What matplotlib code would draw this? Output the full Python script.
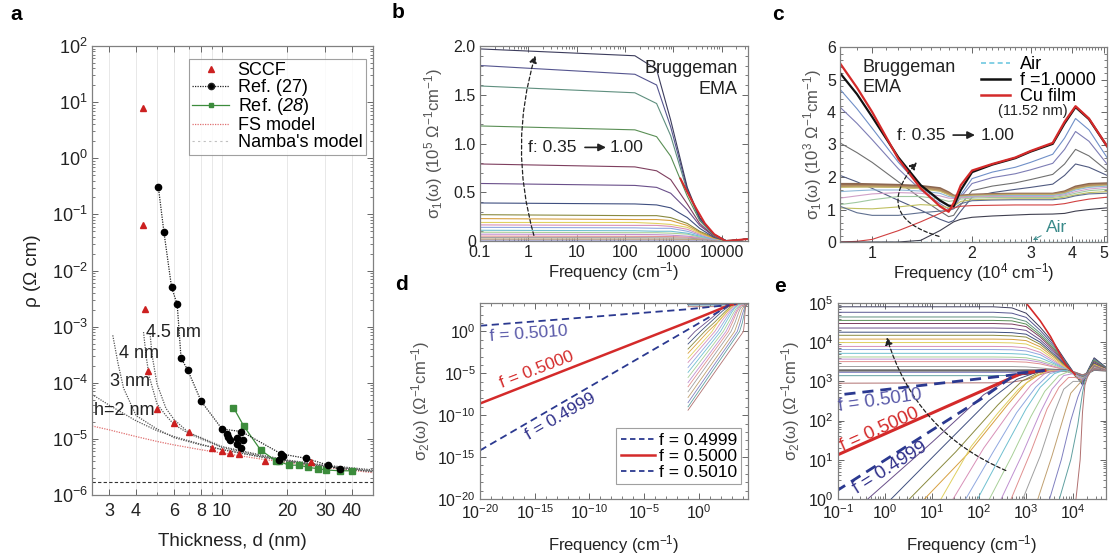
"""Five-panel figure: thin-film resistivity vs thickness (a) and Bruggeman EMA
optical conductivity spectra (b-e). Values are read off the reference figure."""
import matplotlib
matplotlib.use("Agg")
import matplotlib.pyplot as plt
import numpy as np
from matplotlib import ticker
from matplotlib.lines import Line2D

plt.rcParams["font.family"] = ["Liberation Sans", "DejaVu Sans"]
plt.rcParams["mathtext.fontset"] = "custom"
plt.rcParams["mathtext.rm"] = "Liberation Sans"
plt.rcParams["mathtext.it"] = "Liberation Sans:italic"
plt.rcParams["mathtext.bf"] = "Liberation Sans:bold"
plt.rcParams["mathtext.sf"] = "Liberation Sans:italic"

# ---------------- panel a: resistivity vs thickness ----------------
SCCF_D = [4.3, 4.3, 4.38, 4.52, 5.0, 6.0, 7.0, 8.95, 10.0, 10.9, 12.0, 15.8, 25.8]
SCCF_RHO = [8.0, 6.6e-2, 2.1e-3, 1.6e-4, 3.4e-5, 1.95e-5, 1.3e-5, 6.9e-6, 6.0e-6, 5.6e-6, 5.3e-6, 4.1e-6, 3.9e-6]

REF27_D = [5.07, 5.38, 5.84, 6.2, 6.46, 6.93, 8.0, 10.0, 12.3, 18.8, 24.5, 31.0, 35.0]
REF27_RHO = [0.31, 0.049, 5.0e-3, 2.5e-3, 2.75e-4, 1.7e-4, 4.7e-5, 1.5e-5, 1.35e-5, 5.4e-6, 4.5e-6, 3.4e-6, 2.9e-6]
REF27_EXTRA_D = [10.5, 10.6, 10.9, 11.7, 12.5, 11.7, 12.3, 18.3, 19.1]
REF27_EXTRA_RHO = [1.24e-5, 1.1e-5, 9.6e-6, 1.05e-5, 9.6e-6, 8.0e-6, 6.8e-6, 4.2e-6, 5.0e-6]

REF28_D = [11.3, 12.6, 15.1, 17.7, 18.3, 20.4, 22.8, 25.1, 27.7, 30.2, 35.0, 40.0]
REF28_RHO = [3.6e-5, 1.7e-5, 6.3e-6, 4.1e-6, 4.0e-6, 3.4e-6, 3.4e-6, 3.1e-6, 2.95e-6, 2.8e-6, 2.7e-6, 2.7e-6]

FS_D = [2.5, 3, 4, 5, 6, 8, 10, 15, 20, 30, 50]
FS_RHO = [1.7e-5, 1.45e-5, 1.1e-5, 9.0e-6, 7.8e-6, 6.4e-6, 5.6e-6, 4.4e-6, 3.8e-6, 3.1e-6, 2.5e-6]

NAMBA_LABELS = ["h=2 nm", "3 nm", "4 nm", "4.5 nm"]
NAMBA_D = [
    [2.5, 3, 4, 5, 6, 8, 10, 15, 20, 30, 50],
    [3.12, 3.3, 3.5, 4, 5, 6, 8, 10, 15, 20, 30, 50],
    [4.33, 4.45, 4.6, 5, 5.5, 6, 7, 8, 10, 15, 20, 30, 50],
    [4.64, 4.75, 5, 5.5, 6, 7, 8, 10, 15, 20, 30, 50],
]
NAMBA_RHO = [
    [6.2e-5, 4.0e-5, 2.1e-5, 1.4e-5, 1.1e-5, 8.0e-6, 6.4e-6, 4.8e-6, 4.0e-6, 3.2e-6, 2.6e-6],
    [7.0e-4, 2.2e-4, 8.0e-5, 2.6e-5, 1.5e-5, 1.05e-5, 7.8e-6, 6.5e-6, 4.8e-6, 4.0e-6, 3.2e-6, 2.6e-6],
    [8.0e-4, 3.0e-4, 1.3e-4, 4.2e-5, 2.6e-5, 1.8e-5, 1.25e-5, 1.0e-5, 7.0e-6, 5.0e-6, 4.1e-6, 3.3e-6, 2.7e-6],
    [7.5e-4, 3.0e-4, 9.5e-5, 3.5e-5, 2.2e-5, 1.3e-5, 1.05e-5, 7.3e-6, 5.2e-6, 4.2e-6, 3.4e-6, 2.8e-6],
]
NAMBA_LABEL_POS = [(2.56, 3.2e-5), (3.04, 1.05e-4), (3.34, 3.3e-4), (4.43, 7.8e-4)]
BULK_RHO = 1.68e-6

# ---------------- panel b: sigma1, Bruggeman EMA (10^5) ----------------
B_FREQ = [0.1, 160, 450, 880, 1940, 3500, 6800, 12700, 35000]
B_SIGMA1 = [
    [1.97, 1.90, 1.76, 1.24, 0.55, 0.24, 0.07, 0.00, 0.02],
    [1.80, 1.71, 1.60, 1.17, 0.53, 0.23, 0.07, 0.00, 0.02],
    [1.59, 1.52, 1.41, 1.08, 0.51, 0.22, 0.06, 0.00, 0.02],
    [1.18, 1.14, 1.07, 0.87, 0.46, 0.21, 0.06, 0.00, 0.02],
    [0.79, 0.76, 0.72, 0.63, 0.38, 0.18, 0.05, 0.00, 0.02],
    [0.59, 0.57, 0.55, 0.49, 0.32, 0.16, 0.05, 0.00, 0.02],
    [0.39, 0.38, 0.37, 0.34, 0.24, 0.13, 0.04, 0.00, 0.02],
    [0.27, 0.26, 0.26, 0.24, 0.18, 0.10, 0.04, 0.00, 0.02],
    [0.23, 0.22, 0.22, 0.21, 0.16, 0.09, 0.03, 0.00, 0.02],
    [0.19, 0.19, 0.18, 0.17, 0.14, 0.08, 0.03, 0.00, 0.02],
    [0.165, 0.16, 0.16, 0.15, 0.12, 0.07, 0.03, 0.00, 0.02],
    [0.14, 0.135, 0.13, 0.13, 0.10, 0.06, 0.02, 0.00, 0.02],
    [0.11, 0.105, 0.10, 0.10, 0.08, 0.05, 0.02, 0.00, 0.02],
    [0.09, 0.085, 0.085, 0.08, 0.07, 0.04, 0.02, 0.00, 0.02],
    [0.07, 0.067, 0.065, 0.06, 0.05, 0.035, 0.015, 0.00, 0.02],
    [0.05, 0.048, 0.047, 0.045, 0.04, 0.03, 0.015, 0.00, 0.02],
    [0.035, 0.034, 0.033, 0.032, 0.03, 0.022, 0.012, 0.00, 0.02],
    [0.02, 0.02, 0.02, 0.02, 0.018, 0.015, 0.01, 0.005, 0.02],
    [0.01, 0.01, 0.01, 0.01, 0.01, 0.01, 0.008, 0.005, 0.02],
]
CU_B_FREQ = [1400, 2100, 3000, 4500, 7000, 12000, 35000]
CU_B_SIGMA1 = [0.64, 0.47, 0.33, 0.18, 0.07, 0.00, 0.02]

# ---------------- panel c: sigma1 visible range (10^3) ----------------
C_FREQ = [0.80, 0.90, 1.00, 1.20, 1.40, 1.60, 1.70, 1.76, 1.85, 2.00, 2.30, 2.70, 3.00, 3.50, 3.80, 4.10, 4.50, 5.10]
CU_FILM_C = [5.50, 4.75, 4.00, 2.55, 1.65, 1.10, 0.93, 1.20, 1.75, 2.20, 2.40, 2.60, 2.80, 3.05, 3.70, 4.18, 3.80, 2.95]
F100_C = [5.20, 4.55, 3.85, 2.60, 1.75, 1.28, 1.12, 1.10, 1.60, 2.15, 2.38, 2.58, 2.78, 3.02, 3.65, 4.15, 3.78, 2.95]
C_SIGMA1 = [
    [4.70, 4.10, 3.50, 2.45, 1.70, 1.25, 1.10, 1.10, 1.45, 1.95, 2.15, 2.30, 2.45, 2.70, 3.20, 3.80, 3.45, 2.60],
    [4.15, 3.65, 3.15, 2.25, 1.60, 1.18, 1.02, 1.05, 1.38, 1.80, 1.98, 2.10, 2.22, 2.42, 2.85, 3.40, 3.10, 2.40],
    [3.05, 2.75, 2.45, 1.85, 1.35, 0.95, 0.78, 0.82, 1.15, 1.58, 1.72, 1.82, 1.92, 2.08, 2.40, 2.85, 2.65, 2.20],
    [2.05, 1.85, 1.65, 1.28, 0.98, 0.70, 0.60, 0.66, 0.95, 1.38, 1.52, 1.62, 1.68, 1.78, 2.05, 2.40, 2.30, 2.05],
    [1.78, 1.78, 1.77, 1.75, 1.72, 1.65, 1.52, 1.42, 1.42, 1.45, 1.47, 1.48, 1.48, 1.48, 1.55, 1.70, 1.78, 1.80],
    [1.72, 1.72, 1.72, 1.70, 1.67, 1.60, 1.48, 1.40, 1.40, 1.43, 1.45, 1.46, 1.46, 1.46, 1.52, 1.66, 1.74, 1.76],
    [1.68, 1.69, 1.69, 1.68, 1.64, 1.56, 1.45, 1.39, 1.39, 1.42, 1.44, 1.45, 1.45, 1.45, 1.50, 1.63, 1.71, 1.74],
    [1.55, 1.58, 1.60, 1.60, 1.57, 1.50, 1.40, 1.37, 1.38, 1.40, 1.42, 1.43, 1.43, 1.43, 1.48, 1.60, 1.68, 1.72],
    [1.35, 1.42, 1.48, 1.52, 1.50, 1.42, 1.35, 1.34, 1.36, 1.38, 1.40, 1.40, 1.40, 1.40, 1.45, 1.55, 1.63, 1.68],
    [1.15, 1.22, 1.30, 1.40, 1.40, 1.32, 1.25, 1.27, 1.32, 1.35, 1.37, 1.37, 1.37, 1.37, 1.42, 1.50, 1.58, 1.62],
    [1.05, 1.03, 1.02, 1.08, 1.15, 1.12, 1.05, 1.10, 1.25, 1.30, 1.32, 1.33, 1.33, 1.33, 1.38, 1.45, 1.52, 1.55],
    [1.10, 0.90, 0.82, 0.82, 0.90, 0.95, 0.97, 1.02, 1.18, 1.27, 1.29, 1.30, 1.30, 1.30, 1.34, 1.42, 1.48, 1.50],
    [0.00, 0.02, 0.08, 0.35, 0.62, 0.88, 1.00, 1.05, 1.10, 1.12, 1.13, 1.14, 1.14, 1.14, 1.18, 1.25, 1.32, 1.38],
    [0.00, 0.00, 0.00, 0.00, 0.05, 0.35, 0.52, 0.62, 0.70, 0.76, 0.80, 0.83, 0.85, 0.86, 0.88, 0.95, 1.00, 1.05],
]
AIR_FREQ = [0.8, 5.1]
AIR_SIGMA1 = [0.0, 0.0]

# ---------------- panels d/e: sigma2 ----------------
MET_FREQ = [0.1, 200, 500, 1000, 2000, 4000, 7000, 1.1e4, 1.6e4, 2.0e4, 2.8e4, 5.0e4]
MET_SIGMA2 = [
    [8.0e4, 8.0e4, 7.5e4, 5.5e4, 2.4e4, 9.0e3, 3.3e3, 1.5e3, 8.0e2, 1.8e3, 4.0e3, 2.3e3],
    [5.8e4, 5.8e4, 5.5e4, 4.3e4, 2.0e4, 8.0e3, 3.1e3, 1.5e3, 8.5e2, 1.7e3, 3.8e3, 2.2e3],
    [4.4e4, 4.4e4, 4.2e4, 3.4e4, 1.7e4, 7.2e3, 3.0e3, 1.4e3, 9.0e2, 1.7e3, 3.6e3, 2.2e3],
    [3.6e4, 3.6e4, 3.5e4, 2.9e4, 1.5e4, 6.6e3, 2.9e3, 1.4e3, 9.0e2, 1.6e3, 3.4e3, 2.1e3],
    [3.0e4, 3.0e4, 2.9e4, 2.5e4, 1.35e4, 6.0e3, 2.8e3, 1.4e3, 9.5e2, 1.6e3, 3.2e3, 2.1e3],
    [2.3e4, 2.3e4, 2.25e4, 2.0e4, 1.15e4, 5.4e3, 2.6e3, 1.4e3, 1.0e3, 1.6e3, 3.0e3, 2.0e3],
    [1.8e4, 1.8e4, 1.75e4, 1.6e4, 1.0e4, 4.8e3, 2.5e3, 1.4e3, 1.0e3, 1.6e3, 2.9e3, 2.0e3],
    [1.5e4, 1.5e4, 1.45e4, 1.35e4, 8.8e3, 4.4e3, 2.4e3, 1.4e3, 1.05e3, 1.6e3, 2.8e3, 2.0e3],
    [1.2e4, 1.2e4, 1.18e4, 1.1e4, 7.6e3, 4.0e3, 2.3e3, 1.45e3, 1.1e3, 1.6e3, 2.7e3, 2.0e3],
    [9.8e3, 9.8e3, 9.6e3, 9.0e3, 6.5e3, 3.6e3, 2.2e3, 1.45e3, 1.1e3, 1.6e3, 2.6e3, 2.0e3],
    [7.8e3, 7.8e3, 7.7e3, 7.2e3, 5.5e3, 3.3e3, 2.1e3, 1.5e3, 1.15e3, 1.6e3, 2.5e3, 2.0e3],
    [6.5e3, 6.5e3, 6.4e3, 6.0e3, 4.8e3, 3.0e3, 2.1e3, 1.5e3, 1.2e3, 1.6e3, 2.4e3, 2.0e3],
    [5.2e3, 5.2e3, 5.1e3, 4.9e3, 4.0e3, 2.8e3, 2.0e3, 1.5e3, 1.2e3, 1.6e3, 2.3e3, 1.9e3],
    [4.2e3, 4.2e3, 4.15e3, 4.0e3, 3.4e3, 2.6e3, 2.0e3, 1.5e3, 1.25e3, 1.6e3, 2.3e3, 1.9e3],
    [3.7e3, 3.7e3, 3.65e3, 3.55e3, 3.1e3, 2.4e3, 1.95e3, 1.55e3, 1.3e3, 1.6e3, 2.2e3, 1.9e3],
    [3.2e3, 3.2e3, 3.2e3, 3.1e3, 2.8e3, 2.3e3, 1.95e3, 1.55e3, 1.3e3, 1.6e3, 2.2e3, 1.9e3],
    [2.4e3, 2.4e3, 2.4e3, 2.35e3, 2.2e3, 2.05e3, 1.9e3, 1.6e3, 1.35e3, 1.6e3, 2.1e3, 1.9e3],
    [1.9e3, 1.9e3, 1.9e3, 1.9e3, 1.9e3, 1.9e3, 1.9e3, 1.65e3, 1.4e3, 1.6e3, 2.0e3, 1.9e3],
    [1.7e3, 1.7e3, 1.7e3, 1.75e3, 1.85e3, 1.9e3, 1.9e3, 1.65e3, 1.4e3, 1.6e3, 2.0e3, 1.9e3],
    [1.4e3, 1.4e3, 1.42e3, 1.5e3, 1.75e3, 1.9e3, 1.9e3, 1.7e3, 1.4e3, 1.6e3, 2.0e3, 1.9e3],
    [9.0e2, 9.2e2, 9.6e2, 1.1e3, 1.5e3, 1.85e3, 1.9e3, 1.7e3, 1.45e3, 1.6e3, 2.0e3, 1.9e3],
]
MET_THICK = 17

INS_FREQ = [
    [0.1, 0.43, 10, 126, 500, 1600, 4000],
    [0.1, 1.35, 16, 160, 630, 2000, 4000],
    [0.1, 3.3, 32, 250, 800, 2200, 4000],
    [0.1, 6.9, 63, 400, 1000, 2500, 4000],
    [0.1, 15.5, 68, 250, 680, 1600, 3200],
    [0.1, 28, 126, 500, 1260, 2800, 5000],
    [0.1, 52, 200, 630, 1600, 3200, 5600],
    [0.1, 93, 320, 1000, 2000, 4000, 6300],
    [0.1, 166, 500, 1260, 2500, 5000, 8000],
    [0.1, 295, 800, 2000, 3550, 6300, 1.0e4],
    [0.1, 480, 1260, 2800, 5000, 8000, 1.1e4],
    [0.1, 850, 2000, 4000, 6300, 1.0e4, 1.26e4],
    [0.1, 1780, 3550, 6300, 8900, 1.26e4],
    [0.1, 3160, 5600, 8900, 1.26e4, 1.58e4],
    [0.1, 5100, 8900, 1.26e4, 1.58e4, 1.78e4],
    [0.1, 1.15e4, 1.41e4, 1.58e4, 1.78e4, 2.0e4],
]
INS_SIGMA2 = [
    [0.13, 1, 28, 460, 1260, 1860, 1900],
    [0.032, 1, 20, 320, 1120, 1860, 1900],
    [8.0e-3, 1, 16, 250, 1000, 1860, 1900],
    [2.5e-3, 1, 16, 250, 900, 1860, 1900],
    [6.3e-4, 1, 22, 155, 620, 1410, 1900],
    [2.0e-4, 1, 20, 200, 800, 1780, 1900],
    [5.0e-5, 1, 16, 160, 710, 1580, 1900],
    [1.3e-5, 1, 16, 200, 710, 1580, 1900],
    [3.2e-6, 1, 12.6, 126, 560, 1410, 1780],
    [8.0e-7, 1, 12.6, 160, 630, 1410, 1580],
    [2.5e-7, 1, 16, 200, 710, 1260, 1260],
    [6.3e-8, 1, 12.6, 160, 630, 1000, 1000],
    [1.3e-8, 1, 12.6, 126, 500, 800],
    [3.2e-9, 1, 10, 100, 400, 800],
    [1.0e-9, 1, 10, 80, 500, 1000],
    [4.0e-10, 1, 10, 160, 800, 1260],
]
TAIL_FREQ = [7000, 1.1e4, 1.6e4, 2.2e4, 2.8e4, 5.0e4]
TAIL_SIGMA2 = [1.9e3, 1.5e3, 1.1e3, 1.6e3, 2.5e3, 1.9e3]

CU_E_FREQ = [1000, 2000, 3300, 5000, 7000, 1.1e4]
CU_E_SIGMA2 = [1.0e5, 3.5e4, 1.4e4, 5.5e3, 2.6e3, 1.5e3]

F5010_FREQ = [1e-20, 0.1, 1000, 2500]
F5010_SIGMA2 = [4.8, 4.5e2, 1.6e3, 1.9e3]
F5000_FREQ = [1e-20, 0.1, 800, 2500]
F5000_SIGMA2 = [2.5e-9, 13.5, 1.6e3, 1.9e3]
F4999_FREQ = [1e-20, 0.1, 120, 630, 2500]
F4999_SIGMA2 = [6.3e-15, 1.7, 3.8e2, 1.6e3, 1.9e3]

# ---------------- styles ----------------
W, H = 1117, 558
TEXT = "#222222"
RED = "#d42a2a"
NAVY = "#2b3990"
BLUE_TXT = "#5858a8"
NAVY_TXT = "#30308a"
PALETTE = ["#3c3c5c", "#55558f", "#5f8f7f", "#5a8f55", "#7f3f5f", "#6a4f8a", "#3f4f80",
           "#8a8a3f", "#d8a040", "#e0d060", "#d890b8", "#90a8e0", "#70c0d0", "#a8d098",
           "#c090d0", "#e09090", "#a0a0a0", "#c0a070", "#8080c0", "#60a0a0", "#b07070"]
C_COLORS = ["#7090c8", "#7d7db5", "#707070", "#505a80", "#8c6650", "#b08a60", "#c8c070",
            "#90b8d8", "#d0a0c8", "#a0c8a0", "#c0c060", "#607090", "#d04040", "#404050"]

fig = plt.figure(figsize=(W / 100, H / 100), dpi=100)


def add_ax(left, top, right, bottom):
    return fig.add_axes([left / W, 1 - bottom / H, (right - left) / W, (bottom - top) / H])


def style(ax, size=11.5):
    ax.tick_params(which="both", direction="in", top=True, right=True, colors="#666666",
                   labelcolor=TEXT, labelsize=size, pad=3)
    ax.tick_params(which="major", length=4, width=0.7)
    ax.tick_params(which="minor", length=2, width=0.6)
    for s in ax.spines.values():
        s.set_color("#808080")
        s.set_linewidth(0.9)


def curved_arrow(ax, start, end, rad):
    ax.annotate("", xy=end, xytext=start,
                arrowprops=dict(arrowstyle="-|>", linestyle=(0, (3, 2)), color="#222222", lw=0.9,
                                mutation_scale=11, connectionstyle=f"arc3,rad={rad}"))


# ================= panel a =================
ax = add_ax(92, 46, 373, 495)
style(ax, 13)
ax.set_xscale("log")
ax.set_yscale("log")
ax.set_xlim(2.5, 50)
ax.set_ylim(1e-6, 1e2)
ax.xaxis.set_major_locator(ticker.FixedLocator([3, 4, 6, 8, 10, 20, 30, 40]))
ax.xaxis.set_major_formatter(ticker.FixedFormatter(["3", "4", "6", "8", "10", "20", "30", "40"]))
ax.xaxis.set_minor_locator(ticker.FixedLocator([5, 7, 9, 50]))
ax.xaxis.set_minor_formatter(ticker.NullFormatter())
ax.yaxis.set_major_locator(ticker.LogLocator(base=10, numticks=20))
ax.yaxis.set_minor_locator(ticker.LogLocator(base=10, subs=np.arange(2, 10), numticks=20))
ax.yaxis.set_minor_formatter(ticker.NullFormatter())
ax.grid(True, which="both", axis="x", color="#e8e8e8", lw=0.7)
ax.set_axisbelow(True)
ax.tick_params(axis="x", pad=6)

ax.axhline(BULK_RHO, color="#333333", ls=(0, (3, 2)), lw=0.8)
ax.plot(FS_D, FS_RHO, color="#e07070", ls=(0, (1, 1)), lw=0.9)
for xs, ys in zip(NAMBA_D, NAMBA_RHO):
    ax.plot(xs, ys, color="#555555", ls=(0, (1, 1)), lw=0.9)
for lab, (x, y) in zip(NAMBA_LABELS, NAMBA_LABEL_POS):
    ax.text(x, y, lab, fontsize=13, color=TEXT, va="center", ha="left")
ax.plot(REF28_D, REF28_RHO, color="#3c8c3c", lw=0.9, marker="s", ms=4, mfc="#3c8c3c", mec="#3c8c3c")
ax.plot(REF27_D, REF27_RHO, color="#222222", ls=(0, (1, 1)), lw=0.9, marker="o", ms=4.5, mfc="black", mec="black")
ax.plot(REF27_EXTRA_D, REF27_EXTRA_RHO, ls="none", marker="o", ms=4.5, mfc="black", mec="black")
ax.plot(SCCF_D, SCCF_RHO, ls="none", marker="^", ms=5, color="#cc2020")

handles = [
    Line2D([], [], ls="none", marker="^", ms=5, color="#cc2020"),
    Line2D([], [], color="#222222", ls=(0, (1, 1)), lw=0.9, marker="o", ms=4.5, mfc="black"),
    Line2D([], [], color="#3c8c3c", lw=0.9, marker="s", ms=3.5),
    Line2D([], [], color="#e07070", ls=(0, (1, 1)), lw=0.9),
    Line2D([], [], color="#c0c0c0", ls=(0, (2, 3)), lw=0.8),
]
labels = ["SCCF", "Ref. (27)", r"Ref. ($\mathsf{28}$)", "FS model", "Namba's model"]
leg = ax.legend(handles, labels, loc="upper right", bbox_to_anchor=(0.975, 0.972), fontsize=13,
                frameon=True, fancybox=False, edgecolor="#888888", borderpad=0.2, labelspacing=0.0,
                handlelength=2.0, handletextpad=0.5, borderaxespad=0)
leg.get_frame().set_linewidth(0.8)
ax.set_xlabel("Thickness, d (nm)", fontsize=13.5, color=TEXT)
ax.xaxis.set_label_coords(0.5, -0.085)
ax.set_ylabel("ρ (Ω cm)", fontsize=13.5, color=TEXT)
ax.yaxis.set_label_coords(-0.18, 0.5)

# ================= panel b =================
ax = add_ax(480, 46, 748, 241)
style(ax)
ax.set_xscale("log")
ax.set_xlim(0.1, 3.5e4)
ax.set_ylim(0, 2.0)
ax.xaxis.set_major_locator(ticker.FixedLocator([0.1, 1, 10, 100, 1000, 10000]))
ax.xaxis.set_major_formatter(ticker.FixedFormatter(["0.1", "1", "10", "100", "1000", "10000"]))
ax.xaxis.set_minor_locator(ticker.LogLocator(base=10, subs=np.arange(2, 10), numticks=20))
ax.xaxis.set_minor_formatter(ticker.NullFormatter())
ax.yaxis.set_major_locator(ticker.FixedLocator([0, 0.5, 1.0, 1.5, 2.0]))
ax.yaxis.set_major_formatter(ticker.FixedFormatter(["0", "0.5", "1.0", "1.5", "2.0"]))
ax.yaxis.set_minor_locator(ticker.MultipleLocator(0.1))
for i, ys in enumerate(B_SIGMA1[::-1]):
    ax.plot(B_FREQ, ys, color=PALETTE[(len(B_SIGMA1) - 1 - i) % len(PALETTE)], lw=0.8)
ax.plot(CU_B_FREQ, CU_B_SIGMA1, color=RED, lw=1.4)
curved_arrow(ax, (1.35, 0.03), (1.45, 1.93), -0.15)
ax.text(1.0, 0.96, "f: 0.35", fontsize=12.5, color=TEXT, va="center", ha="left")
ax.annotate("", xy=(46, 0.96), xytext=(13, 0.96),
            arrowprops=dict(arrowstyle="-|>", color=TEXT, lw=1.2, mutation_scale=11))
ax.text(48, 0.96, "1.00", fontsize=12.5, color=TEXT, va="center", ha="left")
ax.text(0.96, 0.93, "Bruggeman\nEMA", transform=ax.transAxes, ha="right", va="top",
        fontsize=13, color=TEXT, linespacing=1.3, multialignment="right")
ax.set_xlabel("Frequency (cm$^{-1}$)", fontsize=12, color=TEXT, labelpad=0)
ax.set_ylabel(r"σ$_1$(ω) (10$^5$ Ω$^{-1}$cm$^{-1}$)", fontsize=12, color="#555555", labelpad=6)

# ================= panel c =================
ax = add_ax(840, 47, 1107, 242)
style(ax)
ax.set_xscale("log")
ax.set_xlim(0.8, 5.1)
ax.set_ylim(0, 6)
ax.xaxis.set_major_locator(ticker.FixedLocator([1, 2, 3, 4, 5]))
ax.xaxis.set_major_formatter(ticker.FixedFormatter(["1", "2", "3", "4", "5"]))
ax.xaxis.set_minor_locator(ticker.FixedLocator(np.arange(0.8, 5.11, 0.1)))
ax.xaxis.set_minor_formatter(ticker.NullFormatter())
ax.yaxis.set_major_locator(ticker.MultipleLocator(1))
ax.yaxis.set_minor_locator(ticker.MultipleLocator(0.2))
ax.plot(AIR_FREQ, AIR_SIGMA1, color="#70c8e0", ls=(0, (3, 2)), lw=1.0)
for i, ys in enumerate(C_SIGMA1):
    lw = 1.8 if i in (4, 5) else 0.8
    ax.plot(C_FREQ, ys, color=C_COLORS[i], lw=lw)
ax.plot(C_FREQ, F100_C, color="#111111", lw=1.6)
ax.plot(C_FREQ, CU_FILM_C, color=RED, lw=1.6)
curved_arrow(ax, (1.62, 0.15), (1.38, 2.52), -0.8)
ax.text(1.19, 3.29, "f: 0.35", fontsize=12.5, color=TEXT, va="center", ha="left")
ax.annotate("", xy=(2.08, 3.29), xytext=(1.72, 3.29),
            arrowprops=dict(arrowstyle="-|>", color=TEXT, lw=1.2, mutation_scale=11))
ax.text(2.12, 3.29, "1.00", fontsize=12.5, color=TEXT, va="center", ha="left")
ax.text(0.086, 0.94, "Bruggeman\nEMA", transform=ax.transAxes, ha="left", va="top",
        fontsize=13, color=TEXT, linespacing=1.25)
chandles = [Line2D([], [], color="#70c8e0", ls=(0, (3, 2)), lw=1.2),
            Line2D([], [], color="#111111", lw=1.8),
            Line2D([], [], color=RED, lw=1.8)]
ax.legend(chandles, ["Air", "f =1.0000", "Cu film"], loc="upper left", bbox_to_anchor=(0.50, 0.99),
          frameon=False, fontsize=13, labelspacing=-0.05, handlelength=1.6, handletextpad=0.6,
          borderaxespad=0)
ax.text(3.05, 4.02, "(11.52 nm)", fontsize=10.5, color=TEXT, ha="center", va="center")
ax.annotate("Air", xy=(3.0, 0.02), xytext=(3.35, 0.45), fontsize=12.5, color="#3a8a8a",
            ha="left", va="center",
            arrowprops=dict(arrowstyle="->", color="#3a8a8a", lw=0.7, mutation_scale=6))
ax.set_xlabel("Frequency (10$^4$ cm$^{-1}$)", fontsize=12, color=TEXT, labelpad=0)
ax.set_ylabel(r"σ$_1$(ω) (10$^3$ Ω$^{-1}$cm$^{-1}$)", fontsize=12, color="#555555", labelpad=2)


def draw_sigma2_family(ax, lw):
    for i, ys in enumerate(MET_SIGMA2):
        if i == MET_THICK:
            ax.plot(MET_FREQ, ys, color="#6a6a6a", lw=lw * 2.4)
        else:
            ax.plot(MET_FREQ, ys, color=PALETTE[i % len(PALETTE)], lw=lw)
    for i, (xs, ys) in enumerate(zip(INS_FREQ, INS_SIGMA2)):
        xx = list(xs) + [f for f in TAIL_FREQ if f > xs[-1]]
        yy = list(ys) + [s for f, s in zip(TAIL_FREQ, TAIL_SIGMA2) if f > xs[-1]]
        ax.plot(xx, yy, color=PALETTE[(i + 5) % len(PALETTE)], lw=lw)


# ================= panel d =================
ax = add_ax(480, 303, 748, 499)
style(ax)
ax.set_xscale("log")
ax.set_yscale("log")
ax.set_xlim(1e-20, 3e4)
ax.set_ylim(1e-20, 2.5e3)
for axis in (ax.xaxis, ax.yaxis):
    axis.set_major_locator(ticker.FixedLocator([1e-20, 1e-15, 1e-10, 1e-5, 1e0]))
    axis.set_major_formatter(ticker.LogFormatterSciNotation())
    axis.set_minor_locator(ticker.FixedLocator(10.0 ** np.arange(-20, 5)))
    axis.set_minor_formatter(ticker.NullFormatter())
draw_sigma2_family(ax, 0.6)
ax.plot(F5010_FREQ, F5010_SIGMA2, color=NAVY, ls=(0, (4, 2.5)), lw=1.3)
ax.plot(F5000_FREQ, F5000_SIGMA2, color=RED, lw=1.8)
ax.plot(F4999_FREQ, F4999_SIGMA2, color=NAVY, ls=(0, (4, 2.5)), lw=1.3)
ax.text(10 ** -15.6, 10 ** -0.3, "f = 0.5010", fontsize=12.5, color=BLUE_TXT, rotation=4,
        ha="center", va="center", rotation_mode="anchor")
ax.text(10 ** -14.85, 10 ** -4.6, "f = 0.5000", fontsize=12.5, color=RED, rotation=21,
        ha="center", va="center", rotation_mode="anchor")
ax.text(10 ** -12.6, 10 ** -10.2, "f = 0.4999", fontsize=12.5, color=NAVY_TXT, rotation=30,
        ha="center", va="center", rotation_mode="anchor")
dhandles = [Line2D([], [], color=NAVY, ls=(0, (3, 2)), lw=1.3),
            Line2D([], [], color=RED, lw=1.8),
            Line2D([], [], color=NAVY, ls=(0, (3, 2)), lw=1.3)]
leg = ax.legend(dhandles, ["f = 0.4999", "f = 0.5000", "f = 0.5010"], loc="lower right",
                bbox_to_anchor=(0.975, 0.075), fontsize=12.5, frameon=True, fancybox=False,
                edgecolor="#888888", borderpad=0.25, labelspacing=0.05, handlelength=2.0,
                handletextpad=0.2, borderaxespad=0)
leg.get_frame().set_linewidth(0.8)
ax.set_xlabel("Frequency (cm$^{-1}$)", fontsize=12, color=TEXT, labelpad=8)
ax.set_ylabel(r"σ$_2$(ω) (Ω$^{-1}$cm$^{-1}$)", fontsize=12, color="#555555", labelpad=4)

# ================= panel e =================
ax = add_ax(838, 303, 1106, 499)
style(ax)
ax.set_xscale("log")
ax.set_yscale("log")
ax.set_xlim(0.1, 5e4)
ax.set_ylim(1, 1e5)
for axis in (ax.xaxis, ax.yaxis):
    axis.set_major_locator(ticker.LogLocator(base=10, numticks=20))
    axis.set_minor_locator(ticker.LogLocator(base=10, subs=np.arange(2, 10), numticks=20))
    axis.set_minor_formatter(ticker.NullFormatter())
draw_sigma2_family(ax, 0.7)
ax.plot(CU_E_FREQ, CU_E_SIGMA2, color=RED, lw=1.2)
ax.plot(F5010_FREQ, F5010_SIGMA2, color=NAVY, ls=(0, (4, 2.5)), lw=2.0)
ax.plot(F5000_FREQ, F5000_SIGMA2, color=RED, lw=2.2)
ax.plot(F4999_FREQ, F4999_SIGMA2, color=NAVY, ls=(0, (4, 2.5)), lw=2.0)
curved_arrow(ax, (420, 5.0), (1.05, 1.55e4), -0.24)
ax.text(0.78, 330, "f = 0.5010", fontsize=13.5, color=BLUE_TXT, rotation=8,
        ha="center", va="center", rotation_mode="anchor")
ax.text(0.78, 59, "f = 0.5000", fontsize=13.5, color=RED, rotation=24,
        ha="center", va="center", rotation_mode="anchor")
ax.text(1.26, 6.2, "f = 0.4999", fontsize=13.5, color=NAVY_TXT, rotation=32,
        ha="center", va="center", rotation_mode="anchor")
ax.set_xlabel("Frequency (cm$^{-1}$)", fontsize=12, color=TEXT, labelpad=8)
ax.set_ylabel(r"σ$_2$(ω) (Ω$^{-1}$cm$^{-1}$)", fontsize=12, color="#555555", labelpad=4)

# panel letters
for letter, (x, y) in zip("abcde", [(16, 15), (398, 13), (778, 15), (402, 285), (780, 287)]):
    fig.text(x / W, 1 - y / H, letter, fontsize=15, fontweight="bold", ha="center", va="center")

fig.savefig("out.png", dpi=100)
